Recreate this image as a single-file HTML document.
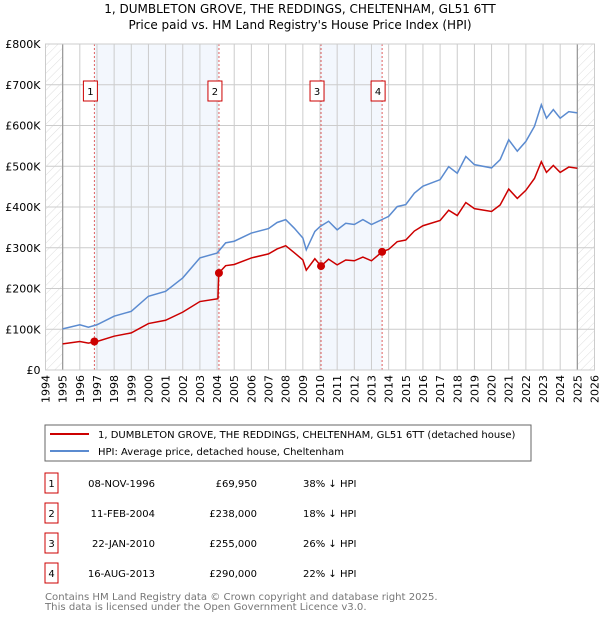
<!DOCTYPE html>
<html><head><meta charset="utf-8"><style>
body{margin:0;background:#fff;width:600px;height:620px;overflow:hidden;font-family:"DejaVu Sans","Liberation Sans",sans-serif;}
svg{display:block}
</style></head><body>
<svg id="chart" width="600" height="620" xmlns="http://www.w3.org/2000/svg">
<defs><pattern id="hatch" width="6" height="6" patternUnits="userSpaceOnUse" patternTransform="rotate(45)"><line x1="0" y1="0" x2="0" y2="6" stroke="#ddd" stroke-width="1"/></pattern></defs>
<text x="300" y="13" text-anchor="middle" font-size="12" fill="#000">1, DUMBLETON GROVE, THE REDDINGS, CHELTENHAM, GL51 6TT</text>
<text x="300" y="29" text-anchor="middle" font-size="12" fill="#000">Price paid vs. HM Land Registry's House Price Index (HPI)</text>
<g id="plot"></g>
<g id="legend">
<rect x="45" y="425" width="486" height="36" fill="#fff" stroke="#666"/>
<line x1="50" y1="434" x2="89" y2="434" stroke="#cc0000" stroke-width="2"/>
<text x="98" y="438" font-size="10">1, DUMBLETON GROVE, THE REDDINGS, CHELTENHAM, GL51 6TT (detached house)</text>
<line x1="50" y1="451" x2="89" y2="451" stroke="#5b8bd0" stroke-width="2"/>
<text x="98" y="455" font-size="10">HPI: Average price, detached house, Cheltenham</text>
</g>
<g id="table" font-size="10"></g>
<text x="45" y="600" font-size="10.1" fill="#777">Contains HM Land Registry data © Crown copyright and database right 2025.</text>
<text x="45" y="610" font-size="10.1" fill="#777">This data is licensed under the Open Government Licence v3.0.</text>
</svg>
<script>
const hpiYears=[1995,1996,1996.5,1997,1998,1999,2000,2001,2002,2003,2004,2004.5,2005,2006,2007,2007.5,2008,2008.5,2009,2009.2,2009.7,2010,2010.5,2011,2011.5,2012,2012.5,2013,2013.6,2014,2014.5,2015,2015.5,2016,2017,2017.5,2018,2018.5,2019,2020,2020.5,2021,2021.5,2022,2022.5,2022.9,2023.2,2023.6,2024,2024.5,2025];
const hpiValues=[101,111,105,111,132,144,181,193,226,275,287,312,316,336,347,362,369,348,324,295,340,352,365,344,360,357,369,357,369,377,401,406,434,451,467,499,483,524,504,496,516,565,537,561,598,651,618,639,618,634,631];
const propYears=[1995,1996,1996.5,1997,1998,1999,2000,2001,2002,2003,2004.05,2004.1,2004.5,2005,2006,2007,2007.5,2008,2008.5,2009,2009.2,2009.7,2010.06,2010.5,2011,2011.5,2012,2012.5,2013,2013.62,2014,2014.5,2015,2015.5,2016,2017,2017.5,2018,2018.5,2019,2020,2020.5,2021,2021.5,2022,2022.5,2022.9,2023.2,2023.6,2024,2024.5,2025];
const propValues=[64,70,66,70,83,91,114,122,142,168,175,238,256,259,275,285,297,305,288,270,245,273,255,272,258,270,268,277,268,290,296,315,319,341,354,367,392,379,411,396,389,405,444,421,441,470,511,485,502,485,498,495];
const saleYears=[1996.85,2004.11,2010.06,2013.62];
const salePrices=[69.95,238,255,290];
const saleDates=["08-NOV-1996","11-FEB-2004","22-JAN-2010","16-AUG-2013"];
const salePriceLabels=["£69,950","£238,000","£255,000","£290,000"];
const saleHpiLabels=["38% ↓ HPI","18% ↓ HPI","26% ↓ HPI","22% ↓ HPI"];
const yTicks=[0,100,200,300,400,500,600,700,800];
const yTickLabels=["£0","£100K","£200K","£300K","£400K","£500K","£600K","£700K","£800K"];
const xTicks=[1994,1995,1996,1997,1998,1999,2000,2001,2002,2003,2004,2005,2006,2007,2008,2009,2010,2011,2012,2013,2014,2015,2016,2017,2018,2019,2020,2021,2022,2023,2024,2025,2026];

const L=45.5,R=594.5,T=44,B=370,X0=1994,X1=2026,YMAX=800;
const x=v=>L+(v-X0)/(X1-X0)*(R-L);
const y=v=>B-v/YMAX*(B-T);
const NS="http://www.w3.org/2000/svg";
function mk(tag,attrs,parent){const e=document.createElementNS(NS,tag);for(const k in attrs)e.setAttribute(k,attrs[k]);parent.appendChild(e);return e;}
const g=document.getElementById('plot');
for(const [a,b] of [[0,1],[2,3]]){
  const r=mk('rect',{x:x(saleYears[a]),y:T,width:x(saleYears[b])-x(saleYears[a]),height:B-T,fill:'#eef3fc',opacity:0.7},g);
  
  
}
const h1=mk('rect',{x:L,y:T,width:x(1995)-L,height:B-T,fill:'url(#hatch)'},g);


const h2=mk('rect',{x:x(2025),y:T,width:R-x(2025),height:B-T,fill:'url(#hatch)'},g);


xTicks.forEach(t=>{
  const l=mk('line',{x1:x(t),x2:x(t),y1:T,y2:B,stroke:'#ccc','stroke-width':1},g);
  
  
  const tx=mk('text',{x:0,y:0,'font-size':11,'text-anchor':'end',transform:`translate(${x(t)+4},${B+5}) rotate(-90)`},g);
  tx.textContent=t;
  
  
});
yTicks.forEach((t,i)=>{
  const l=mk('line',{x1:L,x2:R,y1:y(t),y2:y(t),stroke:'#ccc','stroke-width':1},g);
  
  
  const tx=mk('text',{x:L-5,y:y(t)+4,'font-size':11,'text-anchor':'end'},g);
  tx.textContent=yTickLabels[i];
  
  
});
const b1=mk('line',{x1:x(1995),x2:x(1995),y1:T,y2:B,stroke:'#999','stroke-width':1.2},g);


const b2=mk('line',{x1:x(2025),x2:x(2025),y1:T,y2:B,stroke:'#999','stroke-width':1.2},g);


saleYears.forEach((s,i)=>{
  const l=mk('line',{x1:x(s),x2:x(s),y1:T,y2:B,stroke:'#e06060','stroke-width':1,'stroke-dasharray':'2,2'},g);
  
  
  const bx=mk('rect',{x:x(s)-11,y:81,width:14,height:20,fill:'#fff',stroke:'#cc0000'},g);
  
  
  const t=mk('text',{x:x(s)-4,y:95,'font-size':10,'text-anchor':'middle'},g);
  t.textContent=i+1;
  
  
});
const hp=mk('polyline',{points:hpiYears.map((t,i)=>x(t)+','+y(hpiValues[i])).join(' '),fill:'none',stroke:'#5b8bd0','stroke-width':1.5},g);


const pp=mk('polyline',{points:propYears.map((t,i)=>x(t)+','+y(propValues[i])).join(' '),fill:'none',stroke:'#cc0000','stroke-width':1.5},g);


saleYears.forEach((s,i)=>{
  const c=mk('circle',{cx:x(s),cy:y(salePrices[i]),r:4,fill:'#cc0000'},g);
  
  
});
const fr=mk('rect',{x:L,y:T,width:R-L,height:B-T,fill:'none',stroke:'#ccc'},g);


const tb=document.getElementById('table');
saleDates.forEach((d,i)=>{
  const cy=483+i*30;
  const r=mk('rect',{x:45,y:cy-10,width:13,height:20,fill:'#fff',stroke:'#cc0000'},tb);
  
  
  const n=mk('text',{x:51.5,y:cy+4,'text-anchor':'middle'},tb);n.textContent=i+1;
  
  
  const dt=mk('text',{x:155,y:cy+4,'text-anchor':'end'},tb);dt.textContent=d;
  
  
  const pr=mk('text',{x:257,y:cy+4,'text-anchor':'end'},tb);pr.textContent=salePriceLabels[i];
  
  
  const hv=mk('text',{x:303,y:cy+4},tb);hv.textContent=saleHpiLabels[i];
  
  
});
</script>
</body></html>
